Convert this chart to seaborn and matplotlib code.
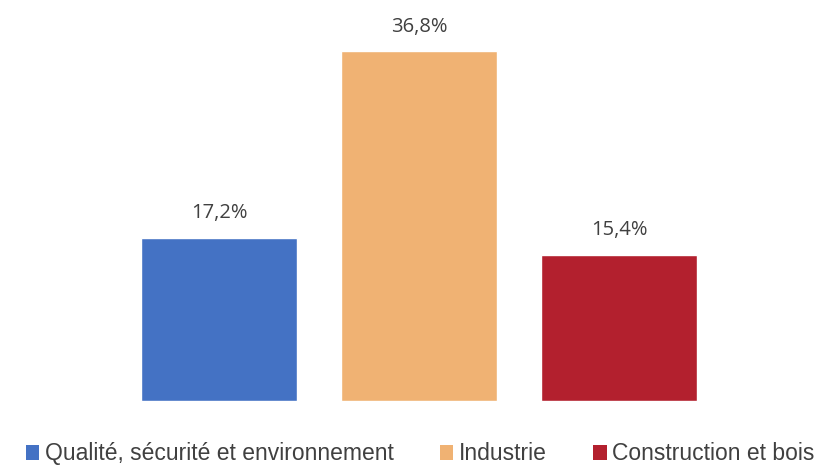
import matplotlib
matplotlib.use("Agg")
import matplotlib.pyplot as plt
import seaborn as sns
import pandas as pd

categories = ["Qualité, sécurité et environnement", "Industrie", "Construction et bois"]
values = [17.2, 36.8, 15.4]
labels = ["17,2%", "36,8%", "15,4%"]
colors = ["#4472C4", "#F0B273", "#B3202E"]

sns.set_theme(style="white")
plt.rcParams['font.family'] = ['Liberation Sans', 'DejaVu Sans']

df = pd.DataFrame({"cat": categories, "val": values})
fig = plt.figure(figsize=(8.27, 4.66), dpi=100)
ax = fig.add_axes([0.1439, 0.1395, 0.7255, 0.8155])
sns.barplot(data=df, x="cat", y="val", hue="cat", palette=colors, width=0.78,
            dodge=False, legend=False, ax=ax, saturation=1)
ax.set_ylim(0, 40)
ax.set_xlim(-0.5, 2.5)
for i, (v, t) in enumerate(zip(values, labels)):
    ax.text(i, v + 1.5, t, ha="center", va="bottom", fontsize=14.5, color="#404040",
            family=['Open Sans', 'DejaVu Sans'])
ax.set_xticks([])
ax.set_yticks([])
ax.set_xlabel("")
ax.set_ylabel("")
for s in ax.spines.values():
    s.set_visible(False)

from matplotlib.patches import Patch
handles = [Patch(facecolor=c, edgecolor="none") for c in colors]
fig.legend(handles, categories, loc="center", bbox_to_anchor=(0.508, 0.026),
           ncol=3, frameon=False, handlelength=0.6, handleheight=0.6,
           handletextpad=0.25, columnspacing=2.0,
           prop={'family': ['Liberation Sans', 'DejaVu Sans'], 'size': 16.5},
           labelcolor="#404040")
fig.savefig("out.png", dpi=100)
